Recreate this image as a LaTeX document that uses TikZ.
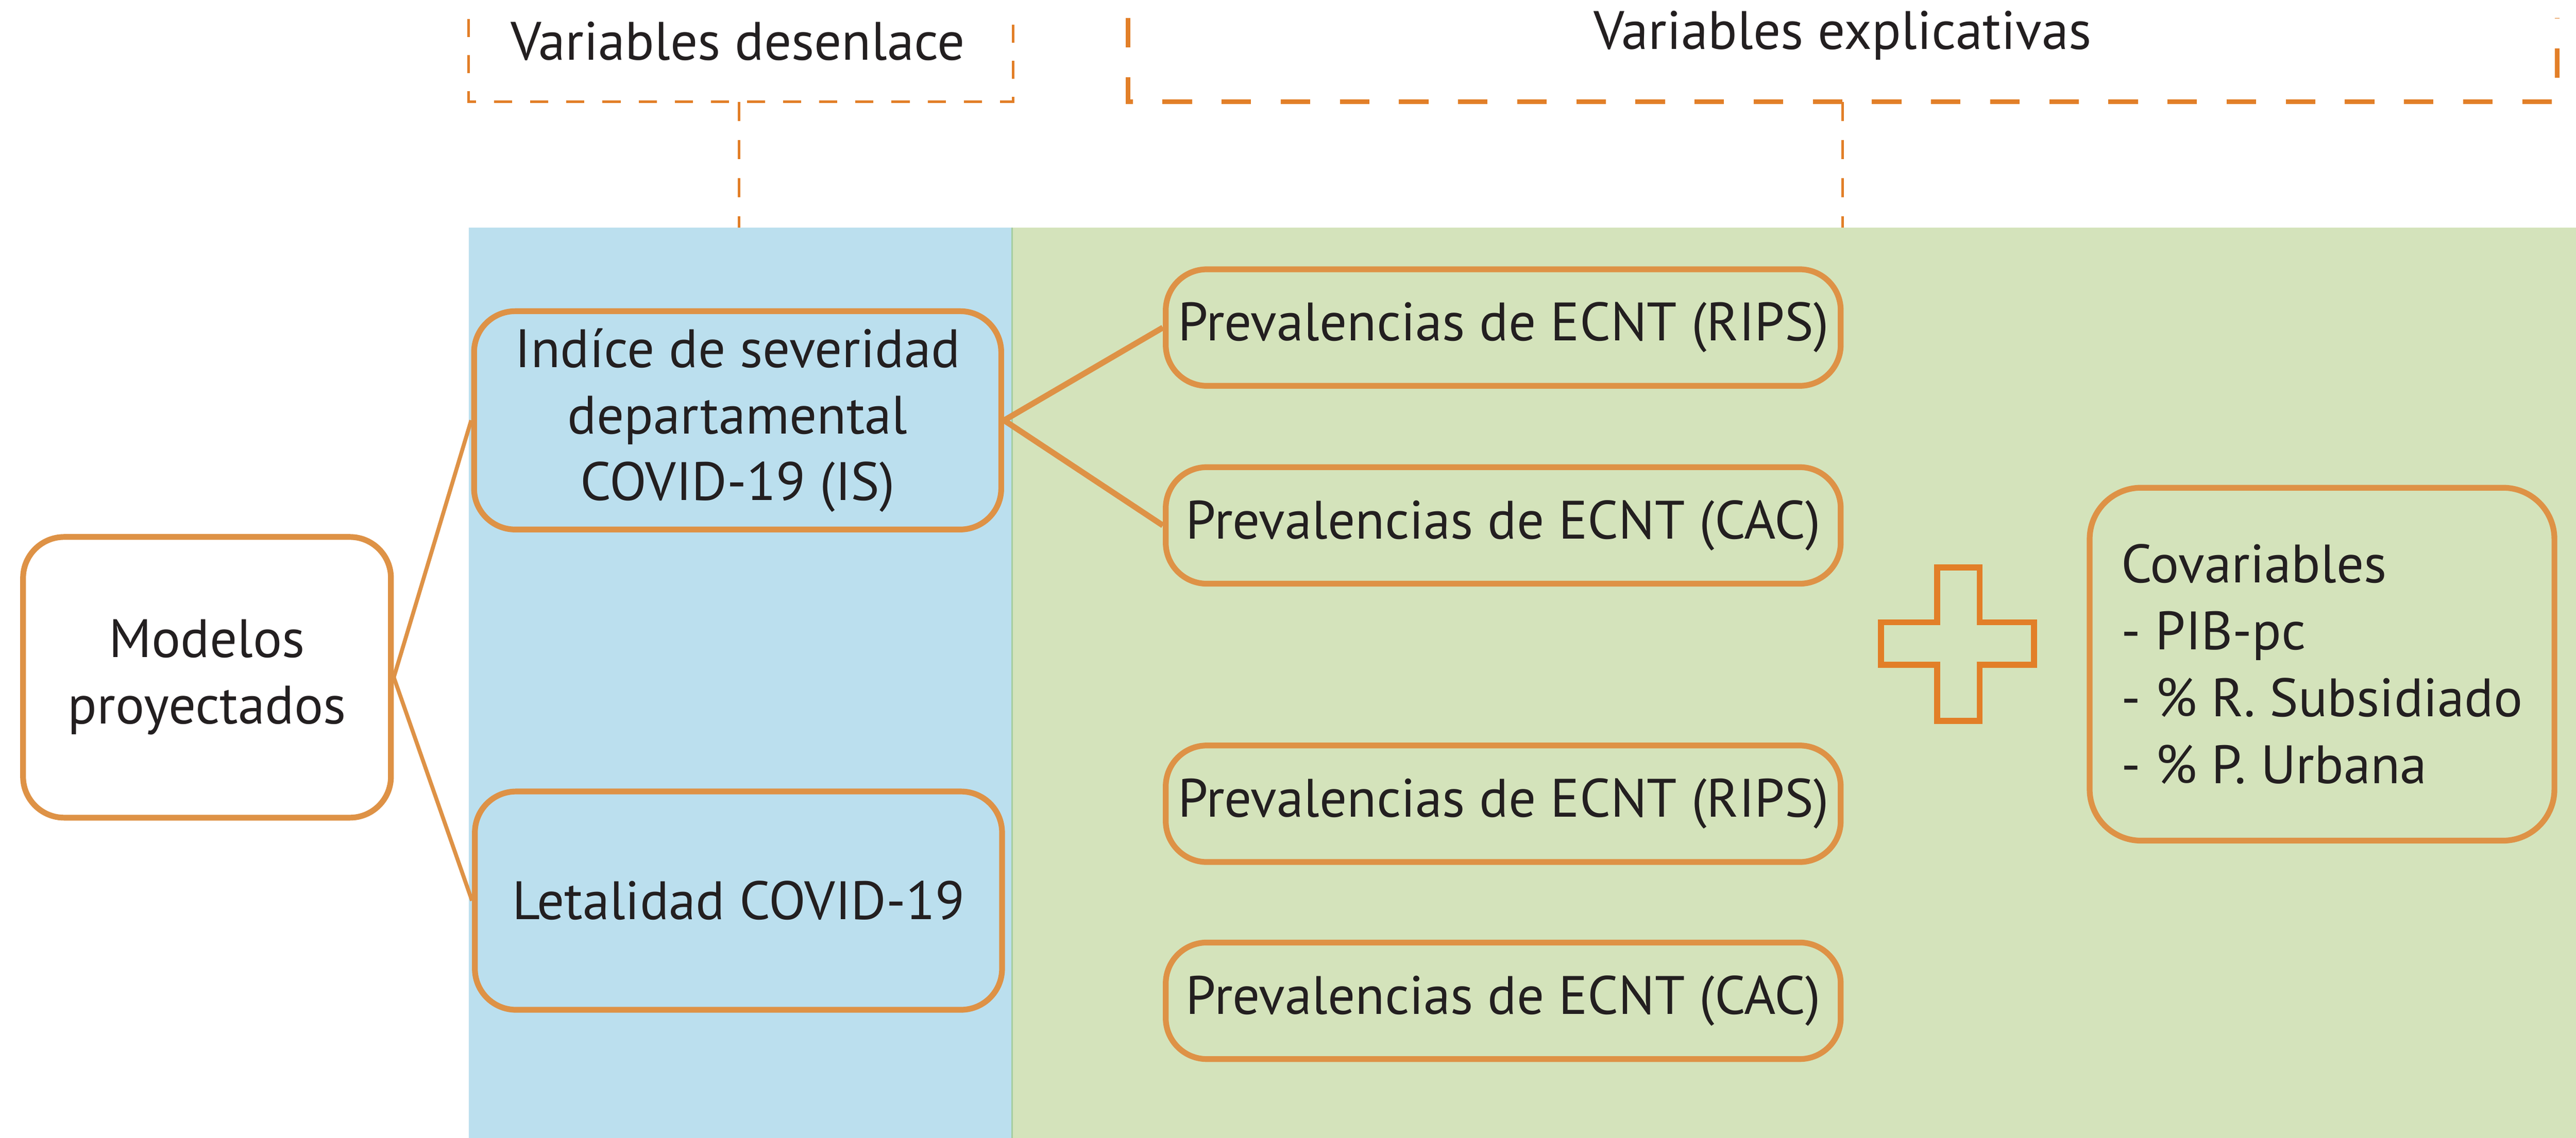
\documentclass[tikz,border=0pt]{standalone}
\usepackage{fontspec}
\setmainfont{PT Sans}
\definecolor{boxorange}{RGB}{222,146,70}
\definecolor{dashorange}{RGB}{226,127,40}
\definecolor{panelblue}{RGB}{187,223,238}
\definecolor{panelgreen}{RGB}{212,227,187}
\definecolor{panelline}{RGB}{165,205,160}
\definecolor{inkgray}{RGB}{35,31,32}
\tikzset{
  rbox/.style={draw=boxorange, line width=1.6pt, rounded corners=0.4cm, align=center,
    text=inkgray, inner sep=0pt, font=\fontsize{15}{18.4}\selectfont},
  pbox/.style={rbox, fill=panelgreen, minimum width=6.576cm, minimum height=1.136cm},
  htext/.style={text=inkgray, inner sep=0pt, anchor=base, font=\fontsize{15}{18.4}\selectfont},
  link/.style={draw=boxorange, line width=1.6pt},
  hdash/.style={dashorange, line width=0.68pt, dash pattern=on 0.176cm off 0.176cm},
  vdash/.style={dashorange, line width=0.68pt, dash pattern=on 0.186cm off 0.186cm}
}
\begin{document}
\begin{tikzpicture}[x=0.016cm,y=-0.016cm]
\useasboundingbox (0,0) rectangle (1568,693);

\fill[panelblue] (285.3,138.6) rectangle (616,693);
\fill[panelgreen] (616,138.6) rectangle (1568,693);
\draw[panelline, line width=0.5pt] (616,138.6) -- (616,693);

\draw[hdash] (285.3,11.5) -- (285.3,62) -- (616.7,62) -- (616.7,11.5);
\draw[hdash, line width=1.36pt, dash pattern=on 0.288cm off 0.288cm] (686.6,11) -- (686.6,62) -- (1556.6,62) -- (1556.6,11);
\node[htext] (hdes) at (449,36.6) {Variables desenlace};
\node[htext] (hexp) at (1121.5,30) {Variables explicativas};

\coordinate (desb) at (449.8,62);
\coordinate (dest) at (449.8,138.6);
\coordinate (expb) at (1121.5,62);
\coordinate (expt) at (1121.5,138.6);
\draw[vdash] (desb) -- (dest);
\draw[vdash] (expb) -- (expt);

\node[rbox, fill=white, minimum width=3.584cm, minimum height=2.736cm] (mod) at (126,412.5) {Modelos\\proyectados};
\node[rbox, fill=panelblue, minimum width=5.136cm, minimum height=2.128cm] (sev) at (449,256) {Indíce de severidad\\departamental\\COVID-19 (IS)};
\node[rbox, fill=panelblue, minimum width=5.136cm, minimum height=2.128cm] (let) at (449.5,548.5) {Letalidad COVID-19};

\node[pbox] (rips1) at (915,199.5) {Prevalencias de ECNT (RIPS)};
\node[pbox] (cac1) at (915,320) {Prevalencias de ECNT (CAC)};
\node[pbox] (rips2) at (915,489.5) {Prevalencias de ECNT (RIPS)};
\node[pbox] (cac2) at (915,609.5) {Prevalencias de ECNT (CAC)};

\node[rbox, fill=panelgreen, align=left, rounded corners=0.5cm, minimum width=4.528cm, minimum height=3.44cm, font=\fontsize{15}{18.6}\selectfont] (cov) at (1413.4,404.5) {Covariables\\- PIB-pc\\- \% R. Subsidiado\\- \% P. Urbana};

\draw[link, line width=1.1pt] (mod.east) -- (sev.west);
\draw[link, line width=1.1pt] (mod.east) -- (let.west);
\draw[link] (sev.east) -- (rips1.west);
\draw[link] (sev.east) -- (cac1.west);

\draw[dashorange, line width=1.7pt] (1179,345.5) -- (1205,345.5) -- (1205,379) -- (1238,379) -- (1238,405) -- (1205,405) -- (1205,439) -- (1179,439) -- (1179,405) -- (1145,405) -- (1145,379) -- (1179,379) -- cycle;
\end{tikzpicture}
\end{document}
